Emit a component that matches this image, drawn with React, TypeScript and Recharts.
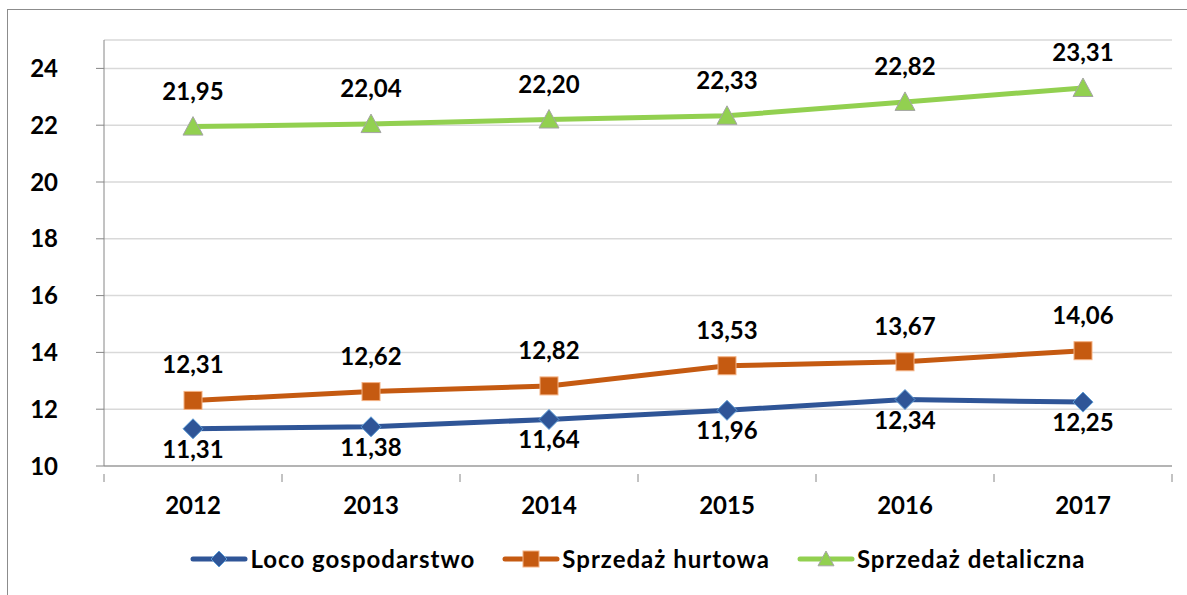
import React from "react";
import { LineChart, Line, XAxis, YAxis, CartesianGrid, LabelList } from "recharts";

const years = ["2012", "2013", "2014", "2015", "2016", "2017"];
const loco = [11.31, 11.38, 11.64, 11.96, 12.34, 12.25];
const hurtowa = [12.31, 12.62, 12.82, 13.53, 13.67, 14.06];
const detaliczna = [21.95, 22.04, 22.2, 22.33, 22.82, 23.31];
const yTicks = [10, 12, 14, 16, 18, 20, 22, 24];

const names = {
  loco: "Loco gospodarstwo",
  hurtowa: "Sprzedaż hurtowa",
  detaliczna: "Sprzedaż detaliczna",
};

const data = years.map((year, i) => ({
  year,
  loco: loco[i],
  hurtowa: hurtowa[i],
  detaliczna: detaliczna[i],
}));

const FONT = "Lato, 'Open Sans', sans-serif";
const FS = 24;
const BAND = (1172 - 104) / years.length;

const fmt = (v: any) => Number(v).toFixed(2).replace(".", ",");

const Diamond = ({ cx, cy, size = 10 }: any) => (
  <polygon
    points={`${cx},${cy - size} ${cx + size},${cy} ${cx},${cy + size} ${cx - size},${cy}`}
    fill="#2f5597"
    stroke="#5b9bd5"
    strokeWidth={1}
  />
);

const Square = ({ cx, cy, size = 9 }: any) => (
  <rect x={cx - size} y={cy - size} width={size * 2} height={size * 2} fill="#c55a11" stroke="#f4b183" strokeWidth={1} />
);

const Triangle = ({ cx, cy, size = 10 }: any) => (
  <polygon
    points={`${cx},${cy - size} ${cx + size},${cy + size * 0.85} ${cx - size},${cy + size * 0.85}`}
    fill="#92d050"
    stroke="#a5a5a5"
    strokeWidth={1}
  />
);

const XTick = ({ x, y, payload, index }: any) => (
  <g>
    <line x1={x - BAND / 2} y1={y} x2={x - BAND / 2} y2={y + 8} stroke="#868686" />
    {index === years.length - 1 && <line x1={x + BAND / 2} y1={y} x2={x + BAND / 2} y2={y + 8} stroke="#868686" />}
    <text x={x} y={y + 40} textAnchor="middle" fontFamily={FONT} fontWeight={700} fontSize={FS} fill="#000">
      {payload.value}
    </text>
  </g>
);

const legendItems = [
  { key: "loco", color: "#2f5597", Marker: Diamond },
  { key: "hurtowa", color: "#c55a11", Marker: Square },
  { key: "detaliczna", color: "#92d050", Marker: Triangle },
];

const LegendBox = () => (
  <div
    style={{
      position: "absolute",
      top: 544,
      left: 104,
      width: 1068,
      display: "flex",
      justifyContent: "center",
      alignItems: "center",
      gap: 27,
      fontFamily: FONT,
    }}
  >
    {legendItems.map(({ key, color, Marker }) => (
      <div key={key} style={{ display: "flex", alignItems: "center" }}>
        <svg width={58} height={26}>
          <line x1={3} y1={13} x2={55} y2={13} stroke={color} strokeWidth={5} strokeLinecap="round" />
          <Marker cx={29} cy={13} size={8} />
        </svg>
        <span style={{ fontSize: FS, fontWeight: 700, color: "#000", marginLeft: 2, letterSpacing: 1 }}>
          {names[key as keyof typeof names]}
        </span>
      </div>
    ))}
  </div>
);

const labelStyle = { fontFamily: FONT, fontWeight: 700, fontSize: FS, fill: "#000" };

export default function App() {
  return (
    <div style={{ position: "absolute", left: 0, top: 0, width: 1187, height: 595, background: "#fff", overflow: "hidden" }}>
      <div style={{ position: "absolute", left: 7, top: 9, width: 1200, height: 600, border: "1px solid #8c8c8c" }} />
      <div style={{ position: "absolute", left: 0, top: 0 }}>
        <LineChart width={1187} height={595} data={data} margin={{ top: 40, right: 15, bottom: 69, left: 44 }}>
          <CartesianGrid horizontal vertical={false} stroke="#d9d9d9" strokeWidth={1.5} />
          <XAxis
            dataKey="year"
            stroke="#868686"
            tickLine={false}
            tick={<XTick />}
            height={60}
            interval={0}
            padding={{ left: BAND / 2, right: BAND / 2 }}
          />
          <YAxis
            domain={[10, 25]}
            ticks={yTicks}
            width={60}
            stroke="#868686"
            tickSize={8}
            tickMargin={38}
            tick={{ fontFamily: FONT, fontWeight: 700, fontSize: FS, fill: "#000" }}
          />
          <Line
            dataKey="loco"
            name={names.loco}
            stroke="#2f5597"
            strokeWidth={5}
            dot={<Diamond />}
            isAnimationActive={false}
          >
            <LabelList dataKey="loco" position="bottom" offset={12} formatter={fmt} style={labelStyle} />
          </Line>
          <Line
            dataKey="hurtowa"
            name={names.hurtowa}
            stroke="#c55a11"
            strokeWidth={5}
            dot={<Square />}
            isAnimationActive={false}
          >
            <LabelList dataKey="hurtowa" position="top" offset={27} formatter={fmt} style={labelStyle} />
          </Line>
          <Line
            dataKey="detaliczna"
            name={names.detaliczna}
            stroke="#92d050"
            strokeWidth={5}
            dot={<Triangle />}
            isAnimationActive={false}
          >
            <LabelList dataKey="detaliczna" position="top" offset={27} formatter={fmt} style={labelStyle} />
          </Line>
        </LineChart>
      </div>
      <LegendBox />
    </div>
  );
}
